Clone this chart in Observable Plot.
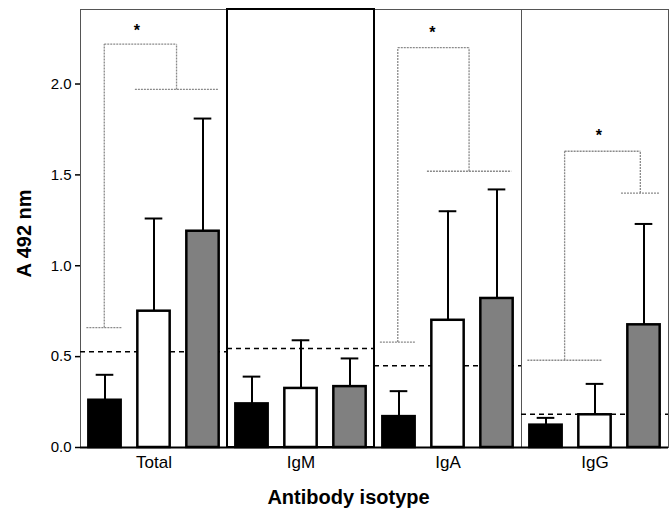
<!DOCTYPE html>
<html>
<head>
<meta charset="utf-8">
<script src="https://cdn.jsdelivr.net/npm/d3@7"></script>
<script src="https://cdn.jsdelivr.net/npm/@observablehq/plot@0.6"></script>
<style>
  html, body { margin: 0; padding: 0; background: #fff; }
  #chart svg { display: block; }
</style>
</head>
<body>
<div id="chart"></div>
<script>
// ---- data ----
const isotypes = ["Total", "IgM", "IgA", "IgG"];
const groups = ["Group 1", "Group 2", "Group 3"];
const groupColors = ["#000000", "#ffffff", "#808080"];

const meanG1 = [0.26, 0.24, 0.17, 0.123];
const meanG2 = [0.75, 0.325, 0.70, 0.18];
const meanG3 = [1.19, 0.335, 0.82, 0.675];

const sdG1 = [0.14, 0.15, 0.14, 0.04];
const sdG2 = [0.51, 0.265, 0.60, 0.17];
const sdG3 = [0.62, 0.155, 0.60, 0.555];

const cutoff = [0.527, 0.545, 0.45, 0.183];

const yLabel = "A 492 nm";
const xLabel = "Antibody isotype";
const yTicks = [0, 0.5, 1, 1.5, 2];

// significance brackets (x in bar-index units within a panel)
const brIso = ["Total", "IgA", "IgG"];
const brLeftX1 = [-0.38, -0.39, -0.38];
const brLeftX2 = [0.35, 0.34, 1.14];
const brLeftY = [0.66, 0.58, 0.48];
const brRightX1 = [0.61, 0.57, 1.53];
const brRightX2 = [2.31, 2.29, 2.32];
const brRightY = [1.97, 1.52, 1.40];
const brTopY = [2.22, 2.20, 1.63];
const starX = [0.65, 0.68, 1.08];
const starY = [2.29, 2.28, 1.715];

// ---- tables built from the arrays ----
const means = [meanG1, meanG2, meanG3];
const sds = [sdG1, sdG2, sdG3];
const bars = [];
isotypes.forEach((iso, k) => {
  groups.forEach((g, i) => {
    bars.push({iso, group: g, i, mean: means[i][k], top: means[i][k] + sds[i][k]});
  });
});
const cut = isotypes.map((iso, k) => ({iso, y: cutoff[k]}));
const segs = [];
const stars = [];
brIso.forEach((iso, k) => {
  const lc = (brLeftX1[k] + brLeftX2[k]) / 2;
  const rc = (brRightX1[k] + brRightX2[k]) / 2;
  segs.push({iso, x1: brLeftX1[k], x2: brLeftX2[k], y1: brLeftY[k], y2: brLeftY[k]});
  segs.push({iso, x1: brRightX1[k], x2: brRightX2[k], y1: brRightY[k], y2: brRightY[k]});
  segs.push({iso, x1: lc, x2: lc, y1: brLeftY[k], y2: brTopY[k]});
  segs.push({iso, x1: rc, x2: rc, y1: brRightY[k], y2: brTopY[k]});
  segs.push({iso, x1: lc, x2: rc, y1: brTopY[k], y2: brTopY[k]});
  stars.push({iso, x: starX[k], y: starY[k]});
});

const chart = Plot.plot({
  width: 672,
  height: 510,
  marginTop: 9,
  marginLeft: 80,
  marginRight: 4,
  marginBottom: 63,
  style: {fontFamily: "'Liberation Sans', Arial, sans-serif", fontSize: "15px", color: "#000", background: "#fff"},
  fx: {domain: isotypes, padding: 0},
  x: {domain: [-0.5, 2.5], axis: null},
  y: {domain: [0, 2.41]},
  color: {domain: groups, range: groupColors},
  marks: [
    Plot.frame({stroke: "#555", strokeWidth: 1}),
    Plot.rect(isotypes.filter(d => d === "IgM"), {fx: d => d, fill: "none", stroke: "#000", strokeWidth: 2}),
    Plot.ruleY(cut, {fx: "iso", y: "y", stroke: "#000", strokeWidth: 1.5, strokeDasharray: "5,4"}),
    Plot.link(segs, {fx: "iso", x1: "x1", x2: "x2", y1: "y1", y2: "y2", stroke: "#8a8a8a", strokeWidth: 1.3, strokeDasharray: "2,1"}),
    Plot.text(stars, {fx: "iso", x: "x", y: "y", text: () => "*", fontSize: 16, fontWeight: "bold"}),
    Plot.ruleX(bars, {fx: "iso", x: "i", y1: "mean", y2: "top", stroke: "#000", strokeWidth: 2}),
    Plot.ruleY(bars, {fx: "iso", y: "top", x1: d => d.i - 0.18, x2: d => d.i + 0.18, stroke: "#000", strokeWidth: 2}),
    Plot.rect(bars, {fx: "iso", x1: d => d.i - 0.33, x2: d => d.i + 0.33, y1: 0, y2: "mean", fill: "group", stroke: "#000", strokeWidth: 2.5}),
    Plot.ruleY([0], {stroke: "#000", strokeWidth: 2}),
    Plot.axisY({ticks: yTicks, tickFormat: d3.format(".1f"), tickSize: 5, tickPadding: 4, strokeWidth: 1.5, fontSize: 15,
      label: null, line: true}),
    Plot.axisFx({anchor: "bottom", tickSize: 0, tickPadding: 8, fontSize: 17, label: null}),
    Plot.text([yLabel], {facet: "super", frameAnchor: "left", textAnchor: "middle", lineAnchor: "middle", rotate: -90, dx: -56, dy: 5, fontSize: 20, fontWeight: "bold"}),
    Plot.text([xLabel], {facet: "super", frameAnchor: "bottom", textAnchor: "middle", lineAnchor: "middle", dx: -26, dy: 50, fontSize: 20, fontWeight: "bold"})
  ]
});
document.getElementById("chart").appendChild(chart);
</script>
</body>
</html>
